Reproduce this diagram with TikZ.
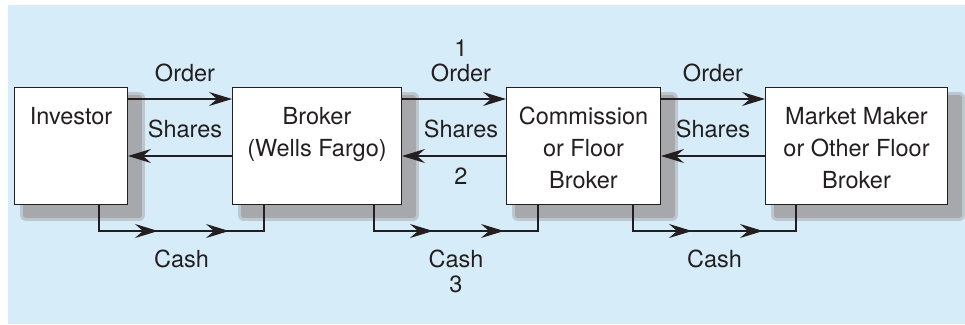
\documentclass[tikz,border=0pt]{standalone}
\usepackage{fontspec}
\setmainfont{TeX Gyre Heros}
\usetikzlibrary{
    arrows.meta,
    positioning,
    shadows,
    decorations.markings
}
\definecolor{SkyBack}{RGB}{214,236,248}
\definecolor{ShadowGray}{RGB}{166,168,171}
\definecolor{InkBlack}{RGB}{35,31,32}
\tikzset{
  flowtip/.tip   = {Stealth[length=23pt, width=14pt, inset=8pt]},
  boxshadow/.style = {drop shadow={shadow xshift=11.5pt, shadow yshift=-10.5pt,
                      fill=ShadowGray!55!SkyBack, draw=ShadowGray!55!SkyBack,
                      line width=12pt, line join=round, opacity=1},
                     drop shadow={shadow xshift=11.5pt, shadow yshift=-10.5pt,
                      fill=ShadowGray, draw=ShadowGray,
                      line width=6pt, line join=round, opacity=1}},
  firm/.style    = {draw=InkBlack, fill=white, line width=1pt,
                    minimum height=117pt, inner sep=0pt, boxshadow},
  firmtxt/.style = {inner sep=0pt, align=center, text=InkBlack,
                    font=\fontsize{23.5}{32}\selectfont},
  lbl/.style     = {inner sep=0pt, align=center, text=InkBlack,
                    font=\fontsize{23.5}{25.5}\selectfont},
  arr/.style     = {-flowtip, draw=InkBlack, line width=1.2pt},
  cash/.style    = {draw=InkBlack, line width=1.2pt, postaction={decorate},
                    decoration={markings,
                      mark=at position 85pt with {\arrow{flowtip}},
                      mark=at position 156pt with {\arrow{flowtip}}}}
}

\begin{document}
\begin{tikzpicture}[x=1pt, y=1pt, node distance=104pt]
\fill[SkyBack] (8,-5) rectangle (965,-324);
\useasboundingbox (0,0) rectangle (965,-324);

% the four parties
\node[firm, minimum width=113pt, anchor=north west] (inv) at (14,-87) {};
\node[firm, minimum width=169pt, right=of inv] (brk) {};
\node[firm, minimum width=154pt, right=of brk] (cfb) {};
\node[firm, minimum width=182pt, right=of cfb] (mkt) {};

\node[firmtxt, below=20pt of inv.north] (invt) {Investor};
\node[firmtxt, below=20pt of brk.north] (brkt) {Broker\\(Wells Fargo)};
\node[firmtxt, below=20pt of cfb.north] (cfbt) {Commission\\or Floor\\Broker};
\node[firmtxt, below=20pt of mkt.north] (mktt) {Market Maker\\or Other Floor\\Broker};

% orders and shares
\draw[arr] ([yshift=-12pt]inv.north east) -- node[lbl, above=16pt, xshift=5pt] (o1) {Order}
    ([yshift=-12pt]brk.north west);
\draw[arr] ([yshift=-69pt]brk.north west) -- node[lbl, above=17pt, xshift=5pt] (s1) {Shares}
    ([yshift=-69pt]inv.north east);

\draw[arr] ([yshift=-12pt]brk.north east) -- node[lbl, above=16pt, xshift=7pt] (o2) {1\\Order}
    ([yshift=-12pt]cfb.north west);
\draw[arr] ([yshift=-69pt]cfb.north west) -- node[lbl, above=17pt, xshift=7pt] (s2) {Shares}
    node[lbl, below=11pt, xshift=7pt] (n2) {2} ([yshift=-69pt]brk.north east);

\draw[arr] ([yshift=-12pt]cfb.north east) -- node[lbl, above=16pt] (o3) {Order}
    ([yshift=-12pt]mkt.north west);
\draw[arr] ([yshift=-69pt]mkt.north west) -- node[lbl, above=17pt] (s3) {Shares}
    ([yshift=-69pt]cfb.north east);

% cash
\draw[cash] ([xshift=-29pt]inv.south east) -- ++(0,-26)
    -| node[lbl, pos=0.25, below=18pt] (c1) {Cash} ([xshift=32pt]brk.south west);
\draw[cash] ([xshift=-28pt]brk.south east) -- ++(0,-26)
    -| node[lbl, pos=0.25, below=18pt] (c2) {Cash\\3} ([xshift=32pt]cfb.south west);
\draw[cash] ([xshift=-28pt]cfb.south east) -- ++(0,-26)
    -| node[lbl, pos=0.25, below=18pt] (c3) {Cash} ([xshift=31pt]mkt.south west);
\end{tikzpicture}
\end{document}
